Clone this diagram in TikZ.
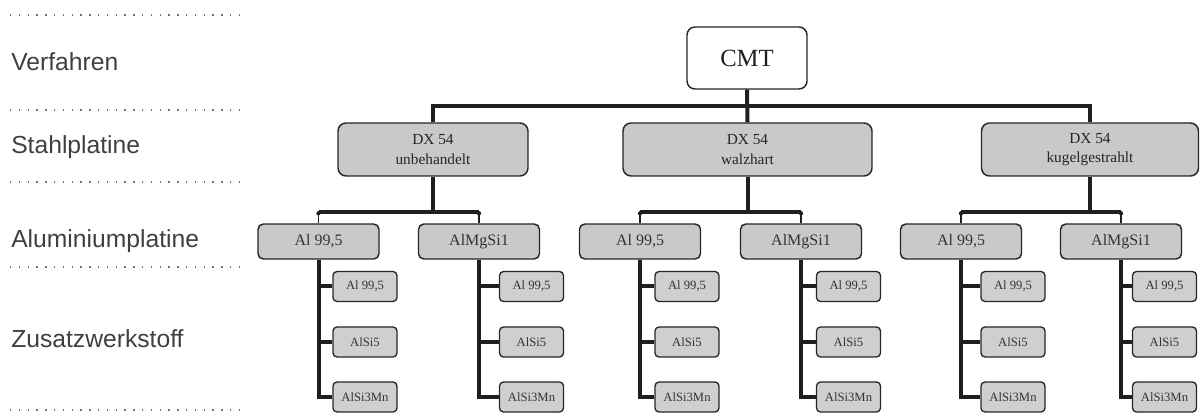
\documentclass[tikz,border=0pt]{standalone}
\usepackage{fontspec}
\setmainfont{Liberation Serif}
\newfontfamily\labelfont{Liberation Sans}
\begin{document}
\begin{tikzpicture}[x=0.75pt,y=-0.75pt,
  conn/.style={line width=3pt, draw=black!88, line join=miter},
  stub/.style={line width=0.8pt, draw=black!88},
  sep/.style={draw=black!55, line width=1.1pt, dash pattern=on 1pt off 5.6pt},
  rowlabel/.style={anchor=west, inner sep=0pt, text=black!75,
    font=\labelfont\fontsize{18.5}{22}\selectfont},
  cmtbox/.style={draw=black!85, line width=1.1pt, fill=white, rounded corners=6pt,
    minimum width=90pt, minimum height=46.5pt, inner sep=0pt, text=black!88,
    font=\fontsize{18.5}{22}\selectfont},
  dxbox/.style={draw=black!85, line width=1.1pt, fill=black!21, rounded corners=6pt,
    minimum height=39.75pt, inner sep=0pt, align=center, text=black!85,
    font=\fontsize{11.5}{14.5}\selectfont},
  albox/.style={draw=black!85, line width=1.1pt, fill=black!21, rounded corners=4pt,
    minimum width=90.75pt, minimum height=26.25pt, inner sep=0pt, text=black!80,
    font=\fontsize{12}{14}\selectfont},
  smallbox/.style={draw=black!85, line width=1pt, fill=black!19, rounded corners=3pt,
    minimum width=48pt, minimum height=22.5pt, inner sep=0pt, text=black!80,
    font=\fontsize{9.5}{11}\selectfont}
]
\useasboundingbox (0,0) rectangle (1200,416);

% row separators and labels
\foreach \yy [count=\i] in {15,110,182,267,410}
  \draw[sep] (10,\yy) coordinate (sepL\i) -- (240,\yy) coordinate (sepR\i);
\node[rowlabel] (lab1) at (11,62) {Verfahren};
\node[rowlabel] (lab2) at (11,147) {Stahlplatine};
\node[rowlabel] (lab3) at (11,241) {Aluminiumplatine};
\node[rowlabel] (lab4) at (11,339) {Zusatzwerkstoff};

% level 1
\node[cmtbox] (cmt) at (747,58) {CMT};

% level 2
\node[dxbox, minimum width=142.5pt] (dx1) at (433,149.5) {DX 54\\unbehandelt};
\node[dxbox, minimum width=186.75pt] (dx2) at (747.5,149.5) {DX 54\\walzhart};
\node[dxbox, minimum width=162.75pt] (dx3) at (1090,149.5) {DX 54\\kugelgestrahlt};

% level 3
\node[albox] (a1) at (318.5,241.5) {Al 99,5};
\node[albox] (m1) at (479,241.5) {AlMgSi1};
\node[albox] (a2) at (640,241.5) {Al 99,5};
\node[albox] (m2) at (801,241.5) {AlMgSi1};
\node[albox] (a3) at (961,241.5) {Al 99,5};
\node[albox] (m3) at (1121,241.5) {AlMgSi1};

% level 4
\foreach \p/\cx in {a1/365, m1/531.5, a2/687, m2/848.5, a3/1013, m3/1164.5}{
  \node[smallbox] (\p s1) at (\cx,286.5) {Al 99,5};
  \node[smallbox] (\p s2) at (\cx,342) {AlSi5};
  \node[smallbox] (\p s3) at (\cx,397) {AlSi3Mn};
}

% connectors level 1 -> 2
\coordinate (topbar) at (433,106);
\draw[conn] (dx1.north) -- (dx1.north |- topbar) -- (dx3.north |- topbar) -- (dx3.north);
\draw[conn] (cmt.south) -- (dx2.north);

% connectors level 2 -> 3
\coordinate (gbar) at (0,212);
\foreach \d/\a/\m in {dx1/a1/m1, dx2/a2/m2, dx3/a3/m3}{
  \draw[conn] (\d.south) -- (\d.south |- gbar);
  \draw[conn] (\a.north |- gbar) -- (\m.north |- gbar);
  \draw[stub] (\a.north |- gbar) -- (\a.north);
  \draw[stub] (\m.north |- gbar) -- (\m.north);
  \fill[black!88] ([yshift=7.5pt]\a.north) circle (1.6pt);
  \fill[black!88] ([yshift=7.5pt]\m.north) circle (1.6pt);
}

% connectors level 3 -> 4
\foreach \p in {a1,m1,a2,m2,a3,m3}{
  \draw[conn] (\p.south) -- (\p.south |- \p s3.west) -- (\p s3.west);
  \draw[conn] (\p.south |- \p s1.west) -- (\p s1.west);
  \draw[conn] (\p.south |- \p s2.west) -- (\p s2.west);
}
\end{tikzpicture}
\end{document}
